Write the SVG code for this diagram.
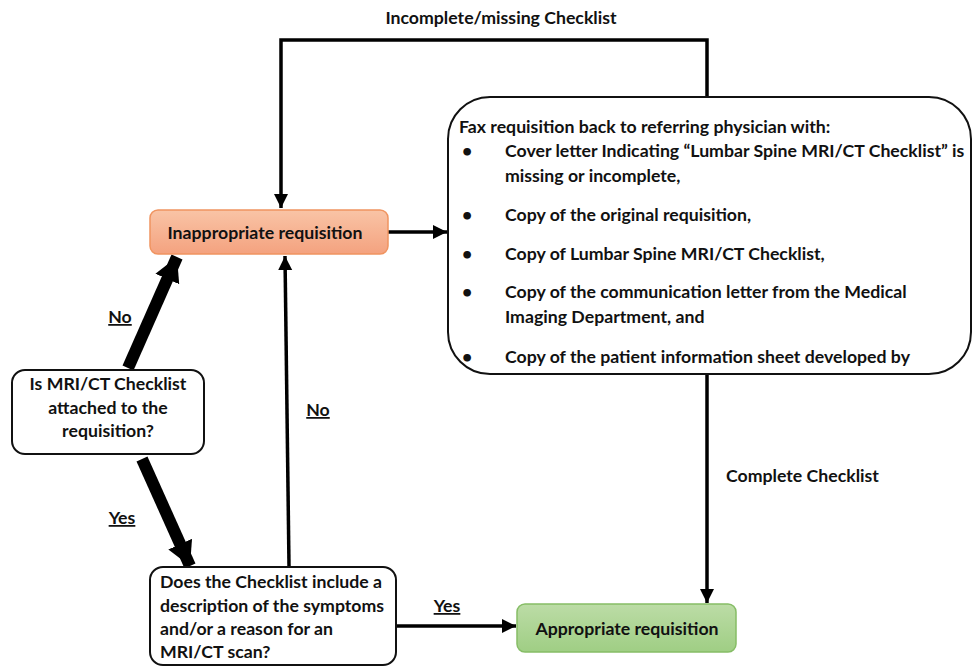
<svg xmlns="http://www.w3.org/2000/svg" width="973" height="670" viewBox="0 0 973 670">
<defs>
<linearGradient id="gOr" x1="0" y1="0" x2="0" y2="1"><stop offset="0" stop-color="#f9c4a6"/><stop offset="1" stop-color="#f4a27f"/></linearGradient>
<linearGradient id="gGr" x1="0" y1="0" x2="0" y2="1"><stop offset="0" stop-color="#bcdca6"/><stop offset="1" stop-color="#9fce84"/></linearGradient>
<marker id="ah" markerUnits="userSpaceOnUse" markerWidth="16" markerHeight="16" refX="14" refY="7" orient="auto"><path d="M0,0 L14,7 L0,14 Z" fill="#000"/></marker>
<marker id="ahT" markerUnits="userSpaceOnUse" markerWidth="30" markerHeight="30" refX="24" refY="13" orient="auto"><path d="M0,0 L24,13 L0,26 Z" fill="#000"/></marker>
</defs>
<style>
text{font-family:Lato,"Liberation Sans",sans-serif;font-weight:bold;font-size:17.7px;fill:#111}
.c{stroke:#000;stroke-width:3.5;fill:none}
.t{stroke:#000;stroke-width:12;fill:none}
.box{fill:#fff;stroke:#111;stroke-width:2}
.u{text-decoration:underline}
</style>
<rect width="973" height="670" fill="#fff"/>
<g id="connectors">
<polyline class="c" points="707,97 707,40 281,40 281,208" marker-end="url(#ah)"/>
<line class="c" x1="388" y1="232" x2="447" y2="232" marker-end="url(#ah)"/>
<line class="t" x1="128" y1="368" x2="177" y2="257" marker-end="url(#ahT)"/>
<line class="t" x1="142" y1="459" x2="190" y2="566" marker-end="url(#ahT)"/>
<line class="c" x1="289" y1="566" x2="285" y2="256" marker-end="url(#ah)"/>
<line class="c" x1="707" y1="374" x2="707" y2="603" marker-end="url(#ah)"/>
<line class="c" x1="396" y1="626" x2="516" y2="626" marker-end="url(#ah)"/>
<text x="501" y="24" text-anchor="middle">Incomplete/missing Checklist</text>
<text x="120" y="323" text-anchor="middle" class="u">No</text>
<text x="318" y="416" text-anchor="middle" class="u">No</text>
<text x="122" y="524" text-anchor="middle" class="u">Yes</text>
<text x="447" y="612" text-anchor="middle" class="u">Yes</text>
<text x="726" y="482">Complete Checklist</text>
</g>
<g id="inappropriate">
<rect x="150" y="210" width="238" height="44" rx="8" fill="url(#gOr)" stroke="#f09460" stroke-width="1.5"/>
<text x="265" y="239" text-anchor="middle">Inappropriate requisition</text>
</g>
<g id="fax">
<rect x="448" y="97" width="523" height="277" rx="42" class="box"/>
<text x="459" y="133">Fax requisition back to referring physician with:</text>
<text x="462" y="157">•</text><text x="505" y="157">Cover letter Indicating “Lumbar Spine MRI/CT Checklist” is</text>
<text x="505" y="182">missing or incomplete,</text>
<text x="462" y="221">•</text><text x="505" y="221">Copy of the original requisition,</text>
<text x="462" y="260">•</text><text x="505" y="260">Copy of Lumbar Spine MRI/CT Checklist,</text>
<text x="462" y="298">•</text><text x="505" y="298">Copy of the communication letter from the Medical</text>
<text x="505" y="323">Imaging Department, and</text>
<text x="462" y="363">•</text><text x="505" y="363">Copy of the patient information sheet developed by</text>
</g>
<g id="attached">
<rect x="12" y="370" width="192" height="84" rx="13" class="box"/>
<text x="108" y="390" text-anchor="middle">Is MRI/CT Checklist</text>
<text x="108" y="414" text-anchor="middle">attached to the</text>
<text x="108" y="437" text-anchor="middle">requisition?</text>
</g>
<g id="does">
<rect x="150" y="567" width="246" height="98" rx="13" class="box"/>
<text x="160" y="588">Does the Checklist include a</text>
<text x="160" y="612">description of the symptoms</text>
<text x="160" y="635">and/or a reason for an</text>
<text x="160" y="658">MRI/CT scan?</text>
</g>
<g id="appropriate">
<rect x="517" y="604" width="219" height="48" rx="8" fill="url(#gGr)" stroke="#86bd66" stroke-width="1.5"/>
<text x="627" y="635" text-anchor="middle">Appropriate requisition</text>
</g>
</svg>
